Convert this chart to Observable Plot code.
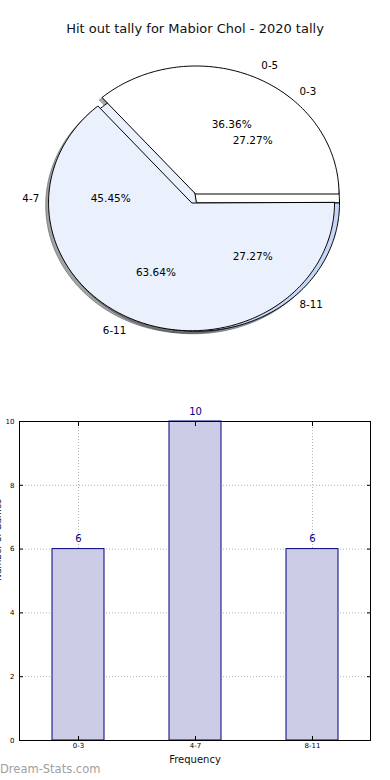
<!DOCTYPE html>
<html>
<head>
<meta charset="utf-8">
<script src="https://cdn.jsdelivr.net/npm/d3@7"></script>
<script src="https://cdn.jsdelivr.net/npm/@observablehq/plot@0.6"></script>
<style>
  html, body { margin: 0; padding: 0; background: #fff; }
  body { width: 390px; height: 780px; position: relative; overflow: hidden; font-family: "DejaVu Sans", sans-serif; }
  #title { position: absolute; top: 21px; left: 0; width: 390px; text-align: center; font-size: 13px; color: #111; }
  #pie { position: absolute; top: 40px; left: 0; }
  #bar { position: absolute; top: 400px; left: 0; }
  #xlabel { position: absolute; top: 754px; left: 0; width: 390px; text-align: center; font-size: 10px; color: #111; }
  #wm { position: absolute; top: 762px; left: 0; font-size: 11.5px; color: #a0a0a0; }
  svg { overflow: hidden; }
</style>
</head>
<body>
<div id="title">Hit out tally for Mabior Chol - 2020 tally</div>
<div id="pie"></div>
<div id="bar"></div>
<div id="xlabel">Frequency</div>
<div id="wm">Dream-Stats.com</div>
<script>
// ---- data ----
const outerLabels = ["0-5", "6-11"];
const outerValues = [8, 14];
const outerColors = ["#ffffff", "#ebf1fc"];
const outerExplode = [0, 0.075];

const innerLabels = ["0-3", "4-7", "8-11"];
const innerValues = [6, 10, 6];
const innerColors = ["#ffffff", "#ebf1fc", "#c6d7f5"];
const innerExplode = [0, 0, 0];

const yTicks = [0, 2, 4, 6, 8, 10];

// ---- pie geometry (matplotlib-like: start at 0 rad, counter-clockwise) ----
function wedges(labels, values, colors, explode, c0, lc0) {
  const total = d3.sum(values);
  let acc = 0;
  return values.map((v, i) => {
    const a0 = acc / total * 2 * Math.PI; acc += v;
    const a1 = acc / total * 2 * Math.PI;
    const mid = (a0 + a1) / 2;
    const ex = explode[i] * Math.cos(mid), ey = explode[i] * Math.sin(mid);
    const ox = c0.x + ex, oy = c0.y + ey;
    const n = Math.max(2, Math.ceil((a1 - a0) / (Math.PI / 180)));
    const pts = [{x: ox, y: oy}];
    for (let k = 0; k <= n; k++) {
      const a = a0 + (a1 - a0) * k / n;
      pts.push({x: ox + Math.cos(a), y: oy + Math.sin(a)});
    }
    return {
      label: labels[i], value: v,
      pct: (v / total * 100).toFixed(2) + "%",
      color: colors[i], pts, mid,
      lx: lc0.x + ex, ly: lc0.y + ey
    };
  });
}
function shadowColor(c) {
  const r = d3.rgb(c);
  return d3.rgb(r.r * 0.3, r.g * 0.3, r.b * 0.3).formatHex();
}

const inner = wedges(innerLabels, innerValues, innerColors, innerExplode, {x: 0.0035, y: -0.072}, {x: 0.0035, y: -0.035});
const outer = wedges(outerLabels, outerValues, outerColors, outerExplode, {x: 0, y: 0}, {x: 0, y: 0});
const all = inner.concat(outer);

const labelPts = all.map(w => ({
  text: w.label,
  x: w.lx + 1.1 * Math.cos(w.mid),
  y: w.ly + 1.1 * Math.sin(w.mid)
}));
const pctPts = all.map(w => ({
  text: w.pct,
  x: w.lx + 0.6 * Math.cos(w.mid),
  y: w.ly + 0.6 * Math.sin(w.mid)
}));

// pixel frame of the pie
const PW = 390, PH = 330, cx = 195.5, cy = 153.5, rx = 143, ry = 128;

const pieMarks = [];
all.forEach(w => {
  pieMarks.push(Plot.line(w.pts.map(p => ({x: p.x - 0.02, y: p.y - 0.02})), {
    x: "x", y: "y", curve: "linear-closed",
    fill: shadowColor(w.color), fillOpacity: 0.5,
    stroke: shadowColor(w.color), strokeOpacity: 0.5, strokeWidth: 1
  }));
});
all.forEach(w => {
  pieMarks.push(Plot.line(w.pts, {
    x: "x", y: "y", curve: "linear-closed",
    fill: w.color, stroke: "#000", strokeWidth: 1, strokeLinejoin: "miter"
  }));
});
pieMarks.push(Plot.text(labelPts.filter(d => d.x >= 0), {x: "x", y: "y", text: "text", textAnchor: "start", fill: "#000"}));
pieMarks.push(Plot.text(labelPts.filter(d => d.x < 0), {x: "x", y: "y", text: "text", textAnchor: "end", fill: "#000"}));
pieMarks.push(Plot.text(pctPts, {x: "x", y: "y", text: "text", textAnchor: "middle", fill: "#000", fontSize: 10.5}));

const pie = Plot.plot({
  width: PW, height: PH, margin: 0,
  style: {fontFamily: "DejaVu Sans, sans-serif", fontSize: "10.3px", background: "transparent", overflow: "hidden"},
  x: {domain: [-cx / rx, (PW - cx) / rx], range: [0, PW], axis: null},
  y: {domain: [-(PH - cy) / ry, cy / ry], range: [PH, 0], axis: null},
  marks: pieMarks
});
document.getElementById("pie").appendChild(pie);

// ---- bar chart ----
const barData = innerLabels.map((l, i) => ({label: l, value: innerValues[i]}));

const bar = Plot.plot({
  width: 390, height: 380,
  marginTop: 21, marginBottom: 40, marginLeft: 19, marginRight: 20,
  style: {fontFamily: "DejaVu Sans, sans-serif", fontSize: "7px", background: "transparent", overflow: "hidden", color: "#000"},
  x: {domain: innerLabels, paddingInner: 0.556, paddingOuter: 0.278, axis: null},
  y: {domain: [0, 10], axis: null},
  marks: [
    Plot.ruleY(yTicks, {y: d => d, stroke: "#b0b0b0", strokeDasharray: "1,2", strokeWidth: 1}),
    Plot.ruleX(innerLabels, {x: d => d, stroke: "#b0b0b0", strokeDasharray: "1,2", strokeWidth: 1}),
    Plot.barY(barData, {x: "label", y: "value", fill: "#ccccE6", stroke: "#000080", strokeWidth: 1}),
    Plot.text(barData, {x: "label", y: "value", text: d => String(d.value), dy: -10, fill: "#00008b", fontSize: 10}),
    Plot.frame({stroke: "#000", strokeWidth: 1}),
    Plot.axisY(yTicks, {anchor: "left", tickSize: -4, tickPadding: 9, label: null, fontSize: 7}),
    Plot.axisY(yTicks, {anchor: "right", tickSize: -4, tickFormat: () => "", label: null}),
    Plot.axisX(innerLabels, {anchor: "bottom", tickSize: -4, tickPadding: 7, label: null, fontSize: 7}),
    Plot.axisX(innerLabels, {anchor: "top", tickSize: -4, tickFormat: () => "", label: null}),
    Plot.text(["Number of Games"], {frameAnchor: "left", dx: -21, rotate: -90, lineAnchor: "middle", fontSize: 9, fill: "#000"})
  ]
});
document.getElementById("bar").appendChild(bar);
</script>
</body>
</html>
